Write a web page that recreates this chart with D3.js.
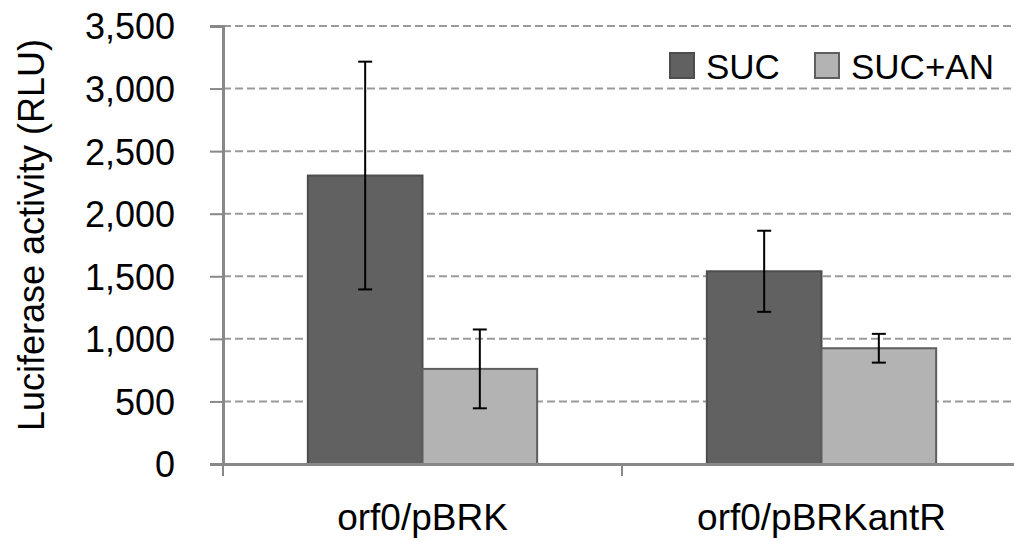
<!DOCTYPE html>
<html>
<head>
<meta charset="utf-8">
<script src="https://cdn.jsdelivr.net/npm/d3@7"></script>
<style>
  body { margin: 0; background: #fff; }
  text { font-family: "Liberation Sans", Arial, sans-serif; fill: #000; }
</style>
</head>
<body>
<svg></svg>
<script>
// data
var categories = ["orf0/pBRK", "orf0/pBRKantR"];
var seriesNames = ["SUC", "SUC+AN"];
var sucValues = [2305, 1540];
var sucErrors = [910, 324];
var sucAnValues = [760, 925];
var sucAnErrors = [315, 115];
var yTicks = [0, 500, 1000, 1500, 2000, 2500, 3000, 3500];

var width = 1014, height = 541;
var margin = {left: 223, top: 26, right: -7, bottom: 77};

var svg = d3.select("svg")
    .attr("width", width)
    .attr("height", height);

var rows = categories.map(function (c, i) {
    return {
        cat: c,
        vals: [
            {name: seriesNames[0], v: sucValues[i], e: sucErrors[i]},
            {name: seriesNames[1], v: sucAnValues[i], e: sucAnErrors[i]}
        ]
    };
});

var fills = {"SUC": "#616161", "SUC+AN": "#b3b3b3"};
var strokes = {"SUC": "#4d4d4d", "SUC+AN": "#5e5e5e"};

var xScale = d3.scaleBand()
    .domain(categories)
    .range([margin.left, width - margin.right])
    .paddingInner(0)
    .paddingOuter(0);

var xSub = d3.scaleBand()
    .domain(seriesNames)
    .range([0, xScale.bandwidth()])
    .paddingInner(0)
    .paddingOuter(0.74);

var yScale = d3.scaleLinear()
    .domain([0, 3500])
    .range([height - margin.bottom, margin.top]);

// gridlines
svg.append("g")
    .selectAll("line")
    .data(yTicks.filter(function (t) { return t > 0; }))
    .enter()
    .append("line")
    .attr("x1", margin.left)
    .attr("x2", width)
    .attr("y1", function (d) { return yScale(d); })
    .attr("y2", function (d) { return yScale(d); })
    .style("stroke", "#9a9a9a")
    .style("stroke-width", 2)
    .style("stroke-dasharray", "8,4");

// bars
var groups = svg.append("g")
    .selectAll("g")
    .data(rows)
    .enter()
    .append("g")
    .attr("transform", function (d) { return "translate(" + xScale(d.cat) + ",0)"; });

groups.selectAll("rect")
    .data(function (d) { return d.vals; })
    .enter()
    .append("rect")
    .attr("x", function (d) { return xSub(d.name); })
    .attr("width", xSub.bandwidth())
    .attr("y", function (d) { return yScale(d.v); })
    .attr("height", function (d) { return yScale(0) - yScale(d.v); })
    .style("fill", function (d) { return fills[d.name]; })
    .style("stroke", function (d) { return strokes[d.name]; })
    .style("stroke-width", 2);

// error bars
var errs = groups.selectAll("g.err")
    .data(function (d) { return d.vals; })
    .enter()
    .append("g")
    .attr("class", "err")
    .style("stroke", "#000")
    .style("stroke-width", 2);

errs.append("line")
    .attr("x1", function (d) { return xSub(d.name) + xSub.bandwidth() / 2; })
    .attr("x2", function (d) { return xSub(d.name) + xSub.bandwidth() / 2; })
    .attr("y1", function (d) { return yScale(d.v + d.e); })
    .attr("y2", function (d) { return yScale(d.v - d.e); });

[1, -1].forEach(function (s) {
    errs.append("line")
        .attr("x1", function (d) { return xSub(d.name) + xSub.bandwidth() / 2 - 7; })
        .attr("x2", function (d) { return xSub(d.name) + xSub.bandwidth() / 2 + 7; })
        .attr("y1", function (d) { return yScale(d.v + s * d.e); })
        .attr("y2", function (d) { return yScale(d.v + s * d.e); });
});

// y axis
var yAxis = d3.axisLeft(yScale)
    .tickValues(yTicks)
    .tickSize(13)
    .tickPadding(35)
    .tickFormat(d3.format(","));

var gy = svg.append("g")
    .attr("transform", "translate(" + margin.left + ",0)")
    .call(yAxis);
gy.select(".domain").style("stroke", "#888").style("stroke-width", 3);
gy.selectAll(".tick line").style("stroke", "#888").style("stroke-width", 2);
gy.selectAll(".tick text")
    .style("font-size", "36px")
    .attr("dy", "0.36em");

// x axis
var xAxis = d3.axisBottom(xScale)
    .tickSize(0)
    .tickPadding(40);

var gx = svg.append("g")
    .attr("transform", "translate(0," + yScale(0) + ")")
    .call(xAxis);
gx.select(".domain").style("stroke", "#888").style("stroke-width", 3);
gx.selectAll(".tick text").style("font-size", "37px");

// category separators
svg.append("g")
    .selectAll("line")
    .data(categories.concat(["end"]))
    .enter()
    .append("line")
    .attr("x1", function (d, i) { return margin.left + i * xScale.bandwidth(); })
    .attr("x2", function (d, i) { return margin.left + i * xScale.bandwidth(); })
    .attr("y1", yScale(0))
    .attr("y2", yScale(0) + 12)
    .style("stroke", "#888")
    .style("stroke-width", 2);

// y title
svg.append("text")
    .attr("transform", "translate(44," + 235 + ") rotate(-90)")
    .attr("text-anchor", "middle")
    .style("font-size", "36px")
    .text("Luciferase activity (RLU)");

// legend
var legend = svg.append("g").attr("id", "legend");
var legendX = [670, 815];
seriesNames.forEach(function (name, i) {
    legend.append("rect")
        .attr("x", legendX[i])
        .attr("y", 53)
        .attr("width", 24)
        .attr("height", 25)
        .style("fill", fills[name])
        .style("stroke", strokes[name])
        .style("stroke-width", 2);
    legend.append("text")
        .attr("x", legendX[i] + 36)
        .attr("y", 79)
        .style("font-size", "35px")
        .text(name);
});
</script>
</body>
</html>
